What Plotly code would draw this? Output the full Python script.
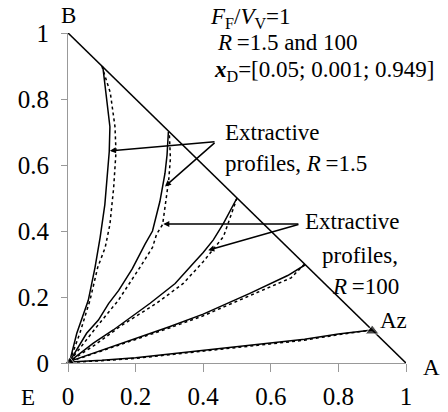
import plotly.graph_objects as go

# profiles from the A-B edge down to E, solid = R 1.5, dotted = R 100
solid_x = [
    [0.103, 0.115, 0.124, 0.122, 0.115, 0.109, 0.095, 0.08, 0.06, 0.026, 0.005],
    [0.297, 0.293, 0.287, 0.272, 0.25, 0.228, 0.19, 0.15, 0.12, 0.09, 0.055, 0.02, 0.005],
    [0.5, 0.48, 0.46, 0.43, 0.40, 0.371, 0.317, 0.243, 0.134, 0.075, 0.005],
    [0.701, 0.65, 0.538, 0.4, 0.3, 0.2, 0.1, 0.005],
    [0.9, 0.8, 0.7, 0.55, 0.4, 0.2, 0.1, 0.005],
]
solid_y = [
    [0.898, 0.80, 0.716, 0.64, 0.55, 0.48, 0.38, 0.29, 0.19, 0.09, 0.005],
    [0.701, 0.63, 0.575, 0.49, 0.40, 0.36, 0.285, 0.22, 0.18, 0.13, 0.09, 0.03, 0.005],
    [0.5, 0.46, 0.423, 0.373, 0.335, 0.302, 0.241, 0.181, 0.10, 0.06, 0.005],
    [0.297, 0.265, 0.211, 0.148, 0.11, 0.075, 0.039, 0.005],
    [0.1, 0.088, 0.072, 0.055, 0.038, 0.016, 0.008, 0.003],
]
dot_x = [
    [0.1, 0.125, 0.139, 0.142, 0.135, 0.129, 0.124, 0.11, 0.088, 0.065, 0.035, 0.005],
    [0.30, 0.303, 0.298, 0.287, 0.28, 0.262, 0.25, 0.213, 0.18, 0.149, 0.085, 0.04, 0.005],
    [0.5, 0.484, 0.46, 0.43, 0.40, 0.341, 0.262, 0.16, 0.08, 0.005],
    [0.7, 0.66, 0.54, 0.4, 0.3, 0.2, 0.1, 0.005],
    [0.9, 0.8, 0.7, 0.55, 0.4, 0.2, 0.1, 0.005],
]
dot_y = [
    [0.9, 0.82, 0.716, 0.64, 0.53, 0.47, 0.42, 0.35, 0.29, 0.19, 0.09, 0.005],
    [0.69, 0.62, 0.555, 0.47, 0.42, 0.39, 0.35, 0.29, 0.24, 0.19, 0.11, 0.05, 0.005],
    [0.5, 0.454, 0.383, 0.345, 0.307, 0.241, 0.181, 0.115, 0.055, 0.005],
    [0.3, 0.258, 0.205, 0.143, 0.106, 0.071, 0.036, 0.004],
    [0.1, 0.086, 0.069, 0.052, 0.035, 0.014, 0.007, 0.002],
]
edge_x = [0, 1]
edge_y = [1, 0]
marker_x = [0.005, 0.9]
marker_y = [0.004, 0.097]
ticks = [0, 0.2, 0.4, 0.6, 0.8, 1]

FONT = "Liberation Serif, Times New Roman, DejaVu Serif, serif"

fig = go.Figure()
fig.add_trace(go.Scatter(x=edge_x, y=edge_y, mode="lines",
                         line=dict(color="black", width=1.6)))
for i in range(len(solid_x)):
    fig.add_trace(go.Scatter(x=solid_x[i], y=solid_y[i], mode="lines",
                             line=dict(color="black", width=1.5)))
    fig.add_trace(go.Scatter(x=dot_x[i], y=dot_y[i], mode="lines",
                             line=dict(color="black", width=1.5, dash="3px,3px")))
fig.add_trace(go.Scatter(x=marker_x, y=marker_y, mode="markers", cliponaxis=False,
                         marker=dict(symbol="triangle-up", size=[9, 12], color="black")))

ann = []
def txt(x, y, s, anchor="left"):
    # paper coords: the axes span the whole domain with range [0, 1]
    ann.append(dict(x=x, y=y, xref="paper", yref="paper", text=s, showarrow=False,
                    xanchor=anchor, yanchor="middle",
                    font=dict(family=FONT, size=23, color="black")))

th = "\u2009"
txt(0, 1.052, "B", "center")
txt(1.076, -0.015, "A", "center")
txt(-0.118, -0.106, "E", "center")
txt(0.962, 0.130, "Az", "center")
txt(0.414, 1.045, "<i>F</i><sub>F</sub>/<i>V</i><sub>V</sub>=1")
txt(0.435, 0.970, "<i>R</i>" + th + "=1.5 and 100")
txt(0.426, 0.886, "<b><i>x</i></b><sub>D</sub>=[0.05; 0.001; 0.949]")
txt(0.459, 0.697, "Extractive")
txt(0.459, 0.606, "profiles, <i>R</i>" + th + "=1.5")
txt(0.987, 0.428, "Extractive", "right")
txt(0.982, 0.327, "profiles,", "right")
txt(0.985, 0.231, "<i>R</i>" + th + "=100", "right")

# arrows pointing at the profiles
for (hx, hy, tx, ty) in [(0.124, 0.643, 0.438, 0.671), (0.287, 0.535, 0.438, 0.671),
                         (0.282, 0.421, 0.686, 0.421), (0.415, 0.342, 0.686, 0.421)]:
    ann.append(dict(x=hx, y=hy, ax=tx, ay=ty, xref="x", yref="y", axref="x", ayref="y",
                    text="", showarrow=True, arrowhead=2, arrowsize=0.8,
                    arrowwidth=1.5, arrowcolor="black"))

fig.update_layout(
    width=448, height=412,
    margin=dict(l=68, r=42, t=33, b=49, autoexpand=False),
    plot_bgcolor="white", paper_bgcolor="white",
    showlegend=False, annotations=ann,
    font=dict(family=FONT, size=23, color="black"),
)
fig.update_xaxes(range=[0, 1], tickvals=ticks, showgrid=False, zeroline=False,
                 showline=True, linecolor="#999999", linewidth=1, automargin=False,
                 ticks="outside", ticklen=8, tickcolor="#999999", ticklabelstandoff=3,
                 tickfont=dict(family=FONT, size=25, color="black"))
fig.update_yaxes(range=[0, 1], tickvals=ticks, showgrid=False, zeroline=False,
                 showline=True, linecolor="#999999", linewidth=1, automargin=False,
                 ticks="outside", ticklen=6, tickcolor="#999999", ticklabelstandoff=7,
                 tickfont=dict(family=FONT, size=25, color="black"))

# page has a default 8px body margin; drop it so the figure sits at 0,0
fig.write_html("out.html", config={"displayModeBar": False},
               post_script="document.body.style.margin='0';")
